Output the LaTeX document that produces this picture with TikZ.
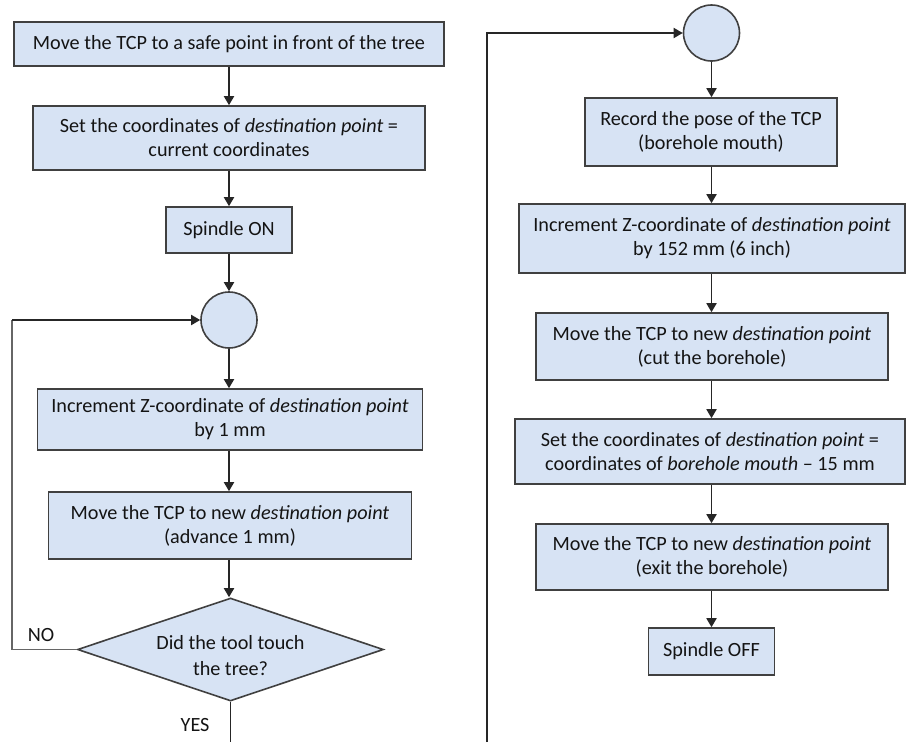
\documentclass[tikz,border=0pt]{standalone}
\usepackage{fontspec}
\setmainfont{Carlito}
\usetikzlibrary{shapes.geometric,arrows.meta}
\definecolor{boxfill}{RGB}{215,227,244}
\definecolor{boxline}{RGB}{64,64,64}
\definecolor{txt}{RGB}{20,20,20}
\begin{document}
\begin{tikzpicture}[x=1pt,y=-1pt,
  every node/.style={font=\fontsize{20.2}{24}\selectfont, text=txt},
  procbox/.style={draw=boxline, fill=boxfill, line width=1.6pt, rectangle, align=center, inner sep=0pt},
  joint/.style={draw=boxline, fill=boxfill, line width=1.6pt, circle, minimum size=56pt, inner sep=0pt},
  decide/.style={draw=boxline, fill=boxfill, line width=1.6pt, diamond, aspect=3, inner sep=0pt, minimum width=306pt, minimum height=103pt},
  flow/.style={line width=1.8pt, draw=black!85, -{Triangle[width=10pt,length=9pt]}},
  plain/.style={line width=1.8pt, draw=black!85},
  thin/.style={line width=1.3pt, draw=black!60}
]
\useasboundingbox (0,0) rectangle (907,742);
\fill[white] (0,0) rectangle (907,742);

% left column
\node[procbox, minimum width=430pt, minimum height=44pt] (b1) at (229,44) {Move the TCP to a safe point in front of the tree};
\node[procbox, minimum width=392pt, minimum height=64pt] (b2) at (229,138) {Set the coordinates of \textit{destination point} =\\ current coordinates};
\node[procbox, minimum width=126pt, minimum height=46pt] (b3) at (229,230) {Spindle ON};
\node[joint] (c1) at (229,320) {};
\node[procbox, minimum width=385pt, minimum height=61pt] (b4) at (230,419.5) {Increment Z-coordinate of \textit{destination point}\\ by 1 mm};
\node[procbox, minimum width=363pt, minimum height=67pt] (b5) at (230,525.5) {Move the TCP to new \textit{destination point}\\ (advance 1 mm)};
\node[decide] (d) at (230.5,649.5) {};
\node[align=center] (dq) at (230.5,656) {Did the tool touch\\[2pt] the tree?};
\node (no) at (41,635) {NO};
\node[anchor=east] (yes) at (213,725) {YES};

\draw[flow] (b1.south -| 229,0) -- (b2.north -| 229,0);
\draw[flow] (b2.south -| 229,0) -- (b3.north -| 229,0);
\draw[flow] (b3) -- (c1);
\draw[flow] (c1.south) -- (c1.south |- b4.north);
\draw[flow] (b4.south -| c1.south) -- (b5.north -| c1.south);
\draw[flow] (b5.south -| c1.south) -- (d.north -| c1.south);

\coordinate (lp1) at (12,649.5);
\coordinate (lp2) at (12,320);
\draw[thin] (d.west) -- (lp1) -- (lp2);
\draw[flow] (lp2) -- (c1.west);

\coordinate (yesend) at (230.5,742);
\draw[plain] (d.south) -- (yesend);

% right column
\node[joint] (c2) at (711.5,33) {};
\node[procbox, minimum width=252pt, minimum height=68pt] (r1) at (711,132) {Record the pose of the TCP\\ (borehole mouth)};
\node[procbox, minimum width=386pt, minimum height=69pt] (r2) at (712,238.5) {Increment Z-coordinate of \textit{destination point}\\ by 152 mm (6 inch)};
\node[procbox, minimum width=352pt, minimum height=67pt] (r3) at (712,346.5) {Move the TCP to new \textit{destination point}\\ (cut the borehole)};
\node[procbox, minimum width=390pt, minimum height=65pt] (r4) at (710,451.5) {Set the coordinates of \textit{destination point} =\\ coordinates of \textit{borehole mouth} -- 15 mm};
\node[procbox, minimum width=352pt, minimum height=66pt] (r5) at (712,557) {Move the TCP to new \textit{destination point}\\ (exit the borehole)};
\node[procbox, minimum width=126pt, minimum height=47pt] (r6) at (711.5,651.5) {Spindle OFF};

\draw[flow] (c2.south) -- (c2.south |- r1.north);
\draw[flow] (r1.south -| c2.south) -- (r2.north -| c2.south);
\draw[flow] (r2.south -| c2.south) -- (r3.north -| c2.south);
\draw[flow] (r3.south -| c2.south) -- (r4.north -| c2.south);
\draw[flow] (r4.south -| c2.south) -- (r5.north -| c2.south);
\draw[flow] (r5.south -| c2.south) -- (r6.north -| c2.south);

\coordinate (rb) at (487,742);
\draw[flow] (rb) |- (c2.west);
\end{tikzpicture}
\end{document}
